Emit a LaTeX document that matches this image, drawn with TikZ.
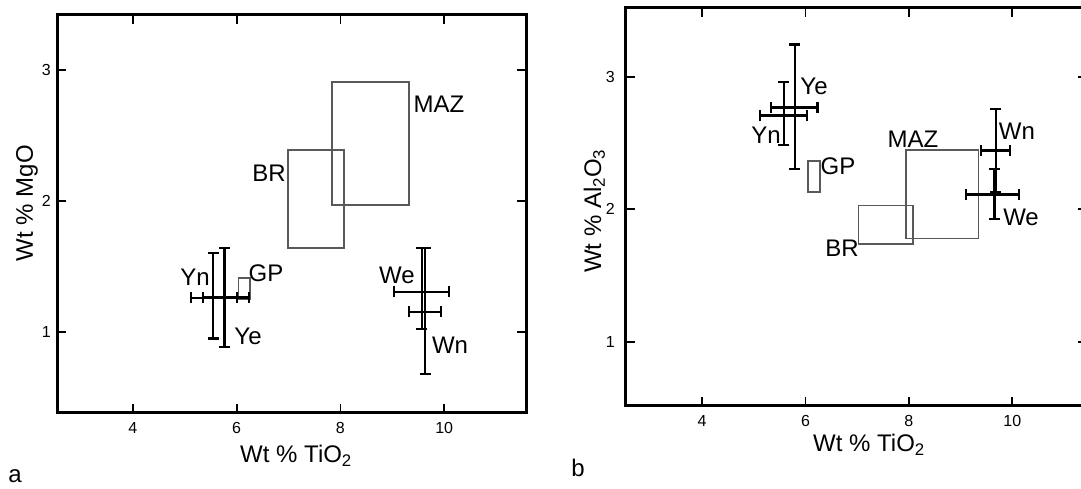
\documentclass[tikz,border=0pt]{standalone}
\usepackage{fontspec}
\setmainfont{Liberation Sans}
\usetikzlibrary{arrows.meta}

\tikzset{
  frame/.style={line width=3pt, line join=miter},
  tick/.style={line width=1.8pt},
  field/.style={draw=black!65, line width=1.3pt},
  ebar/.style={line width=2.5pt, {Bar[width=11pt,line width=2.2pt]}-{Bar[width=11pt,line width=2.2pt]}},
  lbl/.style={font=\fontsize{24}{28}\selectfont, inner sep=0pt},
  ticklbl/.style={font=\fontsize{16}{18}\selectfont, inner sep=0pt},
}

\begin{document}
\begin{tikzpicture}
  \useasboundingbox (0,0) rectangle (1081pt,489pt);
  \clip (0,0) rectangle (1081pt,489pt);

  % panel a: MgO against TiO2
  \begin{scope}[shift={(-74.8pt,26.65pt)}, x=51.9pt, y=130.65pt]
    \draw[frame] (2.54,0.378) rectangle (11.576,3.425);
    \foreach \t in {4,6,8,10} {
      \draw[tick] (\t,0.378) -- ++(0,9pt);
      \draw[tick] (\t,3.425) -- ++(0,-9pt);
      \node[ticklbl] (xa\t) at (\t,0.263) {\t};
    }
    \foreach \t in {1,2,3} {
      \draw[tick] (2.54,\t) -- ++(9pt,0);
      \draw[tick] (11.576,\t) -- ++(-9pt,0);
      \node[ticklbl, anchor=east] (ya\t) at (2.424,\t) {\t};
    }
    % fields
    \draw[field] (6.99,1.64) rectangle (8.07,2.39);  % BR
    \draw[field] (7.84,1.97) rectangle (9.32,2.91);  % MAZ
    \draw[field] (6.03,1.25) rectangle (6.26,1.41);  % GP
    % means with error bars: x/y/xlow/xhigh/ylow/yhigh
    \foreach \px/\py/\xl/\xh/\yl/\yh in {5.55/1.258/5.10/6.03/0.94/1.61,
        5.77/1.26/5.33/6.26/0.875/1.648, 9.572/1.304/9.01/10.11/1.013/1.648,
        9.63/1.151/9.30/9.96/0.668/1.648} {
      \draw[ebar] (\xl,\py) -- (\xh,\py);
      \draw[ebar] (\px,\yl) -- (\px,\yh);
    }
    \node[lbl] (yna) at (5.198,1.419) {Yn};
    \node[lbl] (yea) at (6.220,0.967) {Ye};
    \node[lbl] (gpa) at (6.566,1.445) {GP};
    \node[lbl] (bra) at (6.624,2.211) {BR};
    \node[lbl] (maza) at (9.900,2.743) {MAZ};
    \node[lbl] (wea) at (9.090,1.434) {We};
    \node[lbl] (wna) at (10.112,0.900) {Wn};
    \node[lbl, anchor=base] (xtitlea) at (7.145,0) {Wt \% TiO\textsubscript{2}};
    \node[lbl, anchor=base, rotate=90] (ytitlea) at (2.077,1.985) {Wt \% MgO};
    \node[lbl, anchor=base] (taga) at (1.730,-0.158) {a};
  \end{scope}

  % panel b: Al2O3 against TiO2
  \begin{scope}[shift={(495.08pt,14.8pt)}, x=51.73pt, y=132.5pt]
    \draw[frame] (2.521,0.515) rectangle (11.44,3.52);
    \foreach \t in {4,6,8,10} {
      \draw[tick] (\t,0.515) -- ++(0,9pt);
      \draw[tick] (\t,3.52) -- ++(0,-9pt);
      \node[ticklbl] (xb\t) at (\t,0.405) {\t};
    }
    \foreach \t in {1,2,3} {
      \draw[tick] (2.521,\t) -- ++(9pt,0);
      \draw[tick] (11.44,\t) -- ++(-9pt,0);
      \node[ticklbl, anchor=east] (yb\t) at (2.318,\t) {\t};
    }
    % fields
    \draw[field] (7.025,1.737) rectangle (8.079,2.028);  % BR
    \draw[field] (7.944,1.777) rectangle (9.345,2.447);  % MAZ
    \draw[field] (6.049,2.130) rectangle (6.281,2.364);  % GP
    \foreach \px/\py/\xl/\xh/\yl/\yh in {5.797/2.769/5.320/6.254/2.296/3.251,
        5.581/2.706/5.102/6.049/2.477/2.970, 9.683/2.442/9.368/9.981/2.122/2.762,
        9.654/2.111/9.084/10.147/1.919/2.311} {
      \draw[ebar] (\xl,\py) -- (\xh,\py);
      \draw[ebar] (\px,\yl) -- (\px,\yh);
    }
    \node[lbl] (yeb) at (6.165,2.930) {Ye};
    \node[lbl] (ynb) at (5.237,2.560) {Yn};
    \node[lbl] (gpb) at (6.629,2.326) {GP};
    \node[lbl] (mazb) at (8.080,2.530) {MAZ};
    \node[lbl] (brb) at (6.706,1.707) {BR};
    \node[lbl] (wnb) at (10.089,2.590) {Wn};
    \node[lbl] (web) at (10.167,1.937) {We};
    \node[lbl, anchor=base] (xtitleb) at (7.228,0.171) {Wt \% TiO\textsubscript{2}};
    \node[lbl, anchor=base, rotate=90] (ytitleb) at (2.048,1.986) {Wt \% Al\textsubscript{2}O\textsubscript{3}};
    \node[lbl, anchor=base] (tagb) at (1.603,-0.021) {b};
  \end{scope}
\end{tikzpicture}
\end{document}
